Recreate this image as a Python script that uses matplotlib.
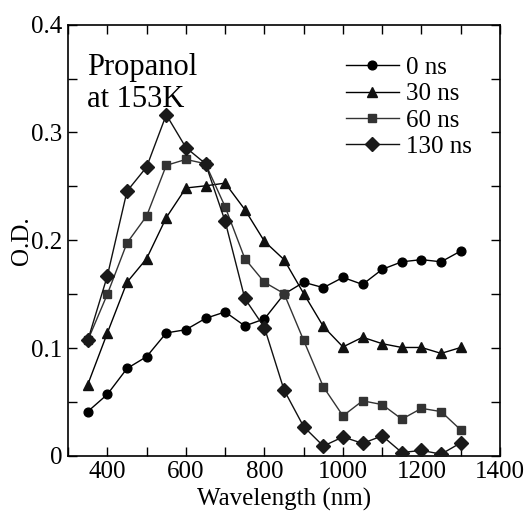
import matplotlib
matplotlib.use("Agg")
import matplotlib.pyplot as plt
from matplotlib.ticker import MultipleLocator, FixedLocator, FixedFormatter

plt.rcParams['font.family'] = ['Liberation Serif', 'DejaVu Serif']

wavelength = [350, 400, 450, 500, 550, 600, 650, 700, 750, 800,
              850, 900, 950, 1000, 1050, 1100, 1150, 1200, 1250, 1300]
od_0ns = [0.041, 0.057, 0.081, 0.092, 0.114, 0.117, 0.1275, 0.1335, 0.1205, 0.127,
          0.150, 0.161, 0.156, 0.1655, 0.159, 0.173, 0.180, 0.182, 0.180, 0.190]
od_30ns = [0.066, 0.114, 0.161, 0.183, 0.221, 0.2485, 0.2505, 0.253, 0.2285, 0.199,
           0.182, 0.1505, 0.120, 0.101, 0.110, 0.104, 0.1005, 0.1005, 0.095, 0.1005]
od_60ns = [0.107, 0.150, 0.1975, 0.2225, 0.2695, 0.275, 0.271, 0.231, 0.183, 0.161,
           0.1505, 0.107, 0.064, 0.037, 0.051, 0.0475, 0.034, 0.044, 0.041, 0.024]
od_130ns = [0.107, 0.167, 0.2455, 0.268, 0.3165, 0.286, 0.271, 0.2175, 0.146, 0.119,
            0.061, 0.027, 0.009, 0.0175, 0.0115, 0.0185, 0.003, 0.005, 0.0015, 0.012]

labels = ['0 ns', '30 ns', '60 ns', '130 ns']
xticks = [400, 600, 800, 1000, 1200, 1400]
yticks = [0, 0.1, 0.2, 0.3, 0.4]
ytick_labels = ['0', '0.1', '0.2', '0.3', '0.4']

fig = plt.figure(figsize=(5.28, 5.15), dpi=100)
ax = fig.add_axes([0.129, 0.115, 0.818, 0.837])

ax.plot(wavelength, od_0ns, '-o', color='black', lw=1.0, ms=6.3, label=labels[0], zorder=3)
ax.plot(wavelength, od_30ns, '-^', color='black', mfc='#111111', mec='#111111', lw=1.0, ms=7.6, label=labels[1], zorder=4)
ax.plot(wavelength, od_60ns, '-s', color='#333333', mfc='#333333', mec='#333333', lw=1.0, ms=6.0, label=labels[2], zorder=5)
ax.plot(wavelength, od_130ns, '-D', color='#111111', mfc='#1a1a1a', mec='#1a1a1a', lw=1.0, ms=7.4, label=labels[3], zorder=6)

ax.set_xlim(300, 1400)
ax.set_ylim(0, 0.4)
ax.xaxis.set_major_locator(FixedLocator(xticks))
ax.xaxis.set_minor_locator(MultipleLocator(100))
ax.yaxis.set_major_locator(FixedLocator(yticks))
ax.yaxis.set_major_formatter(FixedFormatter(ytick_labels))
ax.yaxis.set_minor_locator(MultipleLocator(0.05))
ax.tick_params(which='both', direction='in', top=True, right=True, length=6.3, width=1.0,
               labelsize=18, pad=4)
for s in ax.spines.values():
    s.set_linewidth(1.2)

ax.set_xlabel('Wavelength (nm)', fontsize=18, labelpad=3)
ax.set_ylabel('O.D.', fontsize=18, labelpad=-1)

ax.text(0.043, 0.935, 'Propanol\nat 153K', transform=ax.transAxes, fontsize=22,
        va='top', ha='left', linespacing=1.15)

leg = ax.legend(loc='upper left', bbox_to_anchor=(0.643, 0.926), frameon=False, fontsize=18,
                handlelength=2.12, handletextpad=0.28, labelspacing=0.15,
                borderpad=0, borderaxespad=0)

fig.savefig('out.png', dpi=100)
